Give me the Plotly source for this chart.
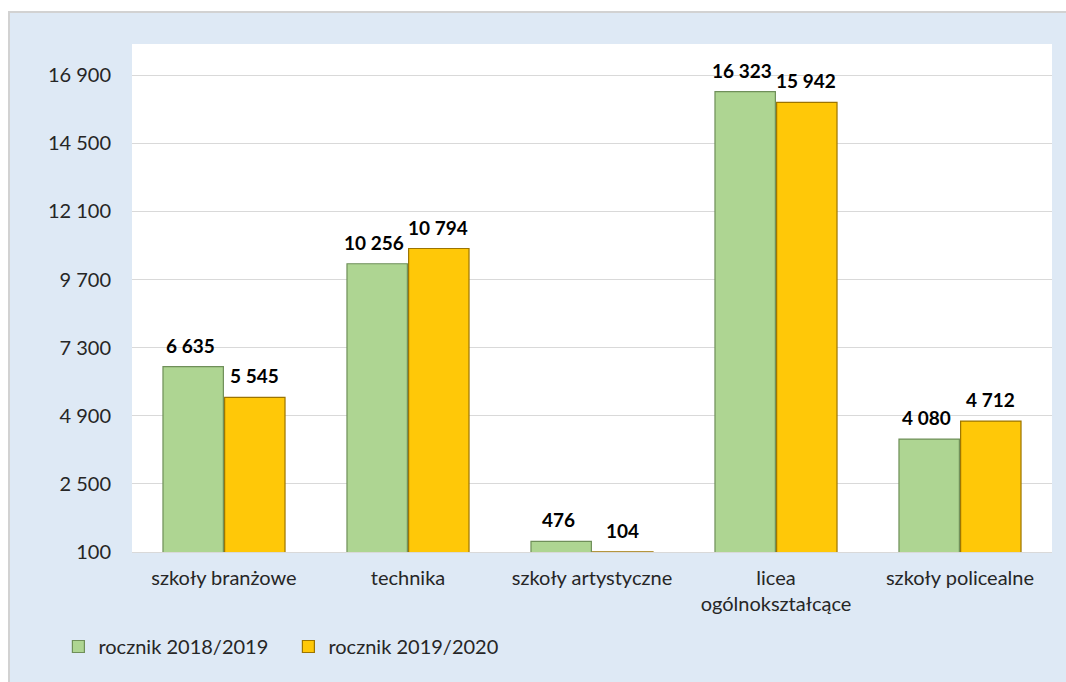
import plotly.graph_objects as go

categories = [
    "szkoły branżowe",
    "technika",
    "szkoły artystyczne",
    "licea<br>ogólnokształcące",
    "szkoły policealne",
]
series_names = ["rocznik 2018/2019", "rocznik 2019/2020"]
values_2018 = [6635, 10256, 476, 16323, 4080]
values_2019 = [5545, 10794, 104, 15942, 4712]
y_ticks = [100, 2500, 4900, 7300, 9700, 12100, 14500, 16900]

FONT = "Lato, 'Open Sans', sans-serif"
PANEL = "#DEE9F5"

fig = go.Figure()
fig.add_trace(go.Bar(
    x=categories, y=values_2018, name=series_names[0],
    marker=dict(color="#AED592", line=dict(color="#6F8F59", width=1.2)),
))
fig.add_trace(go.Bar(
    x=categories, y=values_2019, name=series_names[1],
    marker=dict(color="#FFC808", line=dict(color="#9C7400", width=1.2)),
))

# data labels above each bar
for vals, shift in ((values_2018, -34), (values_2019, 30)):
    for cat, v in zip(categories, vals):
        fig.add_annotation(
            x=cat, y=v, xshift=shift, yshift=8, yanchor="bottom",
            text=f"{v:,}".replace(",", " "), showarrow=False,
            font=dict(family=FONT, size=19, color="black", weight="bold"),
        )

# light blue panel behind everything, white plot area on top of it
fig.add_shape(type="rect", xref="paper", yref="paper",
              x0=-0.1337, x1=1.2, y0=-0.4, y1=1.063,
              fillcolor=PANEL, line=dict(color="#D2D2D2", width=2), layer="below")
fig.add_shape(type="rect", xref="paper", yref="paper",
              x0=0, x1=1, y0=0, y1=1,
              fillcolor="white", line=dict(width=0), layer="below")

fig.update_layout(
    width=1066, height=682,
    margin=dict(l=132, r=14, t=44, b=130),
    paper_bgcolor="white", plot_bgcolor="white",
    separators=", ",
    barmode="group", bargap=0.33, bargroupgap=0.02,
    font=dict(family=FONT, size=20, color="#262626"),
    showlegend=True,
    legend=dict(
        orientation="h", x=-0.08, xanchor="left", y=-0.186, yanchor="middle",
        bgcolor="rgba(0,0,0,0)", font=dict(size=20, color="#262626"),
        entrywidth=185, itemwidth=30,
    ),
)
fig.update_yaxes(
    range=[100, 18000], tickvals=y_ticks, tickformat=",d",
    showgrid=True, gridcolor="#D9D9D9", gridwidth=1,
    zeroline=False, showline=False, ticklabelstandoff=20,
)
fig.update_xaxes(
    showline=True, linecolor="#D9D9D9", linewidth=1,
    ticklabelstandoff=8, tickangle=0,
)

# page has a default 8px body margin; drop it so the figure fills the window
fig.write_html(
    "out.html",
    config={"displayModeBar": False},
    post_script="document.body.style.margin='0';",
)
